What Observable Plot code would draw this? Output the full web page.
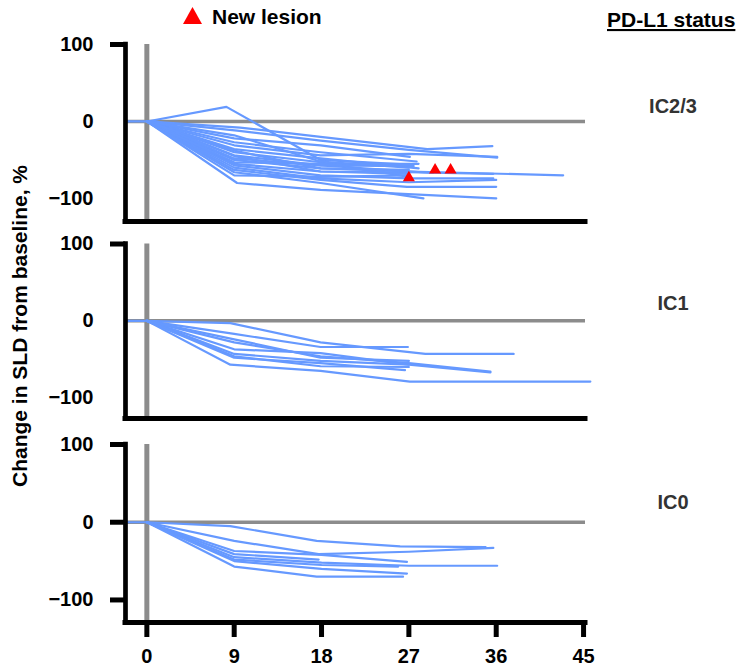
<!DOCTYPE html>
<html><head><meta charset="utf-8">
<script src="https://cdn.jsdelivr.net/npm/d3@7"></script>
<script src="https://cdn.jsdelivr.net/npm/@observablehq/plot@0.6"></script>
<style>
body{margin:0;background:#fff;}
#root{position:relative;width:744px;height:666px;overflow:hidden;background:#fff;}
#root svg{position:absolute;left:0;top:0;}
</style></head><body><div id="root"></div>
<script>
// ---- data ----
const xDomain = [-2.2, 45.2];
const xTicks = [0, 9, 18, 27, 36, 45];
const yTicks = [100, 0, -100];
const screening = [[-2.2, 0], [0, 0]];
const panelNames = ["IC2/3", "IC1", "IC0"];

// each patient: [week, % change in SLD]
const ic23 = [
  [[0,0],[8.2,19],[17.9,-50],[27,-56]],
  [[0,0],[9.6,-8],[17.9,-20],[28.9,-36],[35.6,-32]],
  [[0,0],[9.3,-12],[17.9,-25],[27,-37],[36.1,-47]],
  [[0,0],[9,-22],[17.9,-31],[27.1,-46]],
  [[0,0],[9,-27],[17.9,-40],[27.8,-52]],
  [[0,0],[9,-31],[17.9,-44],[27,-42],[36.1,-46]],
  [[0,0],[9,-36],[17.9,-48],[28,-61]],
  [[0,0],[9,-40],[17.9,-53],[27,-72]],
  [[0,0],[9,-44],[17.9,-57],[29.5,-67]],
  [[0,0],[9,-50],[17.9,-61],[27,-65],[42.9,-70]],
  [[0,0],[9,-55],[17.9,-65],[27,-66],[35.7,-68]],
  [[0,0],[9,-57],[17.9,-70],[27,-74],[35.7,-74]],
  [[0,0],[9,-60],[17.9,-74],[27,-79],[36,-76]],
  [[0,0],[9,-63],[17.9,-76],[26.8,-85],[36,-85]],
  [[0,0],[9.3,-80],[17.9,-89],[36,-100]],
  [[0,0],[9,-66],[17.9,-80],[28.5,-100]],
  [[0,0],[9,-48],[17.9,-57],[27.5,-58]],
  [[0,0],[9,-53],[17.9,-55],[28,-55]],
  [[0,0],[9,-45],[17.9,-65],[27,-68]],
  [[0,0],[9,-70],[17.9,-72],[27,-70]],
  [[0,0],[9,-38],[17.9,-61],[27,-63]],
  [[0,0],[9,-18],[17.9,-52],[27,-60]]
];
const ic1 = [
  [[0,0],[8.6,-3],[17.9,-28],[28.7,-43],[37.8,-43]],
  [[0,0],[9,-17],[17.9,-34],[26.9,-34]],
  [[0,0],[9,-28],[17.9,-46],[27,-55],[35.4,-66]],
  [[0,0],[9,-37],[17.9,-42],[27,-57],[35.4,-67]],
  [[0,0],[9,-43],[17.9,-52],[27,-57]],
  [[0,0],[9,-46],[17.9,-59],[27,-60]],
  [[0,0],[9,-48],[17.9,-55],[26.6,-64]],
  [[0,0],[8.6,-57],[17.9,-65],[27.1,-79],[45.7,-79]],
  [[0,0],[9,-24],[17.9,-48],[27,-52]]
];
const ic0 = [
  [[0,0],[8.6,-5],[17.5,-24],[26.1,-31],[34.9,-32]],
  [[0,0],[9,-24],[17.7,-41],[27,-38],[35.7,-33]],
  [[0,0],[9,-37],[18,-42],[26.8,-51]],
  [[0,0],[9,-41],[17.7,-48]],
  [[0,0],[9,-45],[18,-52],[27,-56],[36.1,-56]],
  [[0,0],[9,-48],[18,-55],[25.9,-57]],
  [[0,0],[9,-50],[18,-60],[26.8,-66]],
  [[0,0],[9,-57],[17.5,-70],[26.4,-70]]
];
const newLesions = [[27.0,-73],[29.7,-63],[31.3,-63]];

// ---- style / layout ----
const blue = "#6699ff", gray = "#8c8c8c";
const font = "Liberation Sans, Arial, Helvetica, sans-serif";
const panels = [
  {data: ic23, lesions: newLesions, top: 44, bottom: 221, yMin: -130, caps: [100], xAxis: false},
  {data: ic1, lesions: null, top: 243.5, bottom: 418, yMin: -127, caps: [100], xAxis: false},
  {data: ic0, lesions: null, top: 444, bottom: 622, yMin: -129, caps: [100, 0, -100], xAxis: true}
];

const toRows = (patients) => patients.flatMap((pts, id) => pts.map(([w, v]) => ({id, w, v})));

const root = document.getElementById("root");

panels.forEach(cfg => {
  const marks = [
    Plot.ruleY([0], {stroke: gray, strokeWidth: 3.5}),
    Plot.ruleX([0], {stroke: gray, strokeWidth: 5}),
    Plot.line(screening, {x: d => d[0], y: d => d[1], stroke: blue, strokeWidth: 2.2}),
    Plot.line(toRows(cfg.data), {x: "w", y: "v", z: "id", stroke: blue, strokeWidth: 2.2})
  ];
  if (cfg.lesions) marks.push(Plot.dot(cfg.lesions, {x: d => d[0], y: d => d[1], symbol: "triangle", r: 4.5, fill: "#ff0000"}));
  marks.push(
    Plot.ruleX([xDomain[0]], {stroke: "black", strokeWidth: 4.7, strokeLinecap: "square"}),
    Plot.ruleY([cfg.yMin], {stroke: "black", strokeWidth: 5, strokeLinecap: "square"}),
    Plot.axisY({ticks: yTicks, tickSize: 0, tickPadding: 32, fontSize: 20, fontWeight: "bold", fill: "#000", label: null}),
    Plot.axisY({ticks: cfg.caps, tickSize: 15, tickFormat: () => "", stroke: "black", strokeWidth: 5, label: null})
  );
  if (cfg.xAxis) marks.push(Plot.axisX({ticks: xTicks, tickSize: 15, tickPadding: 11, stroke: "black", strokeWidth: 5, fontSize: 20, fontWeight: "bold", fill: "#000", label: null}));
  const chart = Plot.plot({
    width: 744, height: 666,
    marginLeft: 125, marginRight: 159,
    marginTop: cfg.top, marginBottom: 666 - cfg.bottom,
    x: {domain: xDomain, label: null, ...(cfg.xAxis ? {} : {axis: null})},
    y: {domain: [cfg.yMin, 100], label: null},
    style: {background: "transparent", overflow: "visible", fontFamily: font},
    marks
  });
  root.appendChild(chart);
});

// ---- annotations overlay ----
const svg = d3.select(root).append("svg")
  .attr("width", 744).attr("height", 666)
  .style("pointer-events", "none")
  .style("font-family", font)
  .style("font-weight", "bold");

svg.append("text").attr("transform", "translate(27,326) rotate(-90)")
  .attr("text-anchor", "middle").attr("font-size", 21).attr("fill", "#000")
  .text("Change in SLD from baseline, %");

svg.append("polygon").attr("points", "183,24 202,24 192.5,7").attr("fill", "#ff0000");
svg.append("text").attr("x", 212).attr("y", 24).attr("font-size", 21).attr("fill", "#000").text("New lesion");

svg.append("text").attr("x", 607).attr("y", 27).attr("font-size", 21).attr("fill", "#000")
  .attr("text-decoration", "underline").text("PD-L1 status");

const labelY = [113, 309.5, 509];
panelNames.forEach((n, i) => {
  svg.append("text").attr("x", 673).attr("y", labelY[i]).attr("text-anchor", "middle")
    .attr("font-size", 20).attr("fill", "#333").text(n);
});
</script></body></html>
